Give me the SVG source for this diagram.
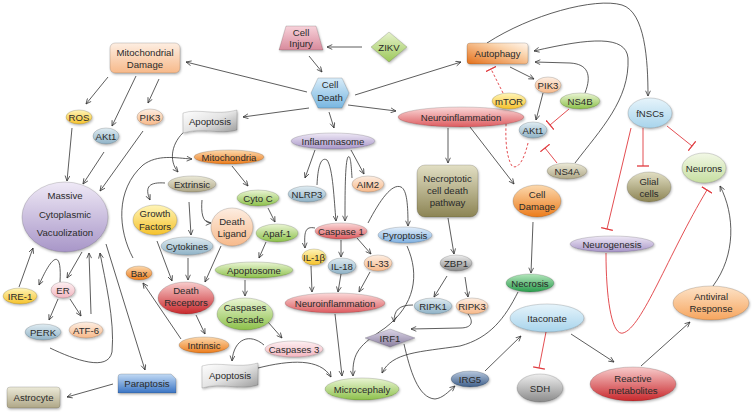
<svg xmlns="http://www.w3.org/2000/svg" width="753" height="412" viewBox="0 0 753 412">
<defs>
<style>
text{font-family:"Liberation Sans",Arial,sans-serif;font-size:9.6px;fill:#2a2a2a;text-anchor:middle}
.sh{filter:url(#ds);stroke:#000;stroke-opacity:0.25;stroke-width:0.6}
.c path{fill:none;stroke:#333;stroke-width:0.8;marker-end:url(#arr)}
.r path{fill:none;stroke:#e03a3e;stroke-width:0.9;marker-end:url(#bar)}
.r path.d{stroke-dasharray:2.5 2}
</style>
<filter id="ds" x="-20%" y="-20%" width="150%" height="160%"><feDropShadow dx="0.8" dy="1.5" stdDeviation="1" flood-color="#000" flood-opacity="0.28"/></filter>
<marker id="arr" viewBox="0 0 8 8" refX="7.5" refY="4" markerWidth="6" markerHeight="6" markerUnits="userSpaceOnUse" orient="auto"><path d="M0.5,0.8 L7.5,4 L0.5,7.2" fill="none" stroke="#333" stroke-width="1"/></marker>
<marker id="bar" viewBox="0 0 2 12" refX="1" refY="6" markerWidth="2" markerHeight="12" markerUnits="userSpaceOnUse" orient="auto"><path d="M1,0 L1,12" stroke="#e03a3e" stroke-width="1.3"/></marker>
<linearGradient id="peach" x1="0" y1="0" x2="0" y2="1"><stop offset="0" stop-color="#fdeee2"/><stop offset="1" stop-color="#f7b98a"/></linearGradient>
<linearGradient id="peach2" x1="0" y1="0" x2="0" y2="1"><stop offset="0" stop-color="#fde3c8"/><stop offset="1" stop-color="#f6a55e"/></linearGradient>
<linearGradient id="orange" x1="0" y1="0" x2="0" y2="1"><stop offset="0" stop-color="#fcd9ae"/><stop offset="1" stop-color="#ec7c1c"/></linearGradient>
<linearGradient id="auto" x1="1" y1="0" x2="0" y2="1"><stop offset="0" stop-color="#fff6ee"/><stop offset="0.3" stop-color="#fbd6b0"/><stop offset="1" stop-color="#e4701a"/></linearGradient>
<linearGradient id="yellow" x1="0" y1="0" x2="0" y2="1"><stop offset="0" stop-color="#fff5b8"/><stop offset="1" stop-color="#f5c22c"/></linearGradient>
<linearGradient id="bgray" x1="0" y1="0" x2="0" y2="1"><stop offset="0" stop-color="#e0ecf2"/><stop offset="1" stop-color="#8fb2c6"/></linearGradient>
<linearGradient id="blue" x1="0" y1="0" x2="0" y2="1"><stop offset="0" stop-color="#e2eefb"/><stop offset="1" stop-color="#7fb0e0"/></linearGradient>
<linearGradient id="lblue" x1="0" y1="0" x2="0" y2="1"><stop offset="0" stop-color="#e6f4fb"/><stop offset="1" stop-color="#a8d4ec"/></linearGradient>
<linearGradient id="lav" x1="0" y1="0" x2="0" y2="1"><stop offset="0" stop-color="#efe9f6"/><stop offset="1" stop-color="#a896c8"/></linearGradient>
<linearGradient id="green" x1="0" y1="0" x2="0" y2="1"><stop offset="0" stop-color="#eaf5d4"/><stop offset="1" stop-color="#8cc04a"/></linearGradient>
<linearGradient id="lgreen" x1="0" y1="0" x2="0" y2="1"><stop offset="0" stop-color="#f2f8e6"/><stop offset="1" stop-color="#c6dea0"/></linearGradient>
<linearGradient id="red" x1="0" y1="0" x2="0" y2="1"><stop offset="0" stop-color="#fbdada"/><stop offset="1" stop-color="#dc5a5e"/></linearGradient>
<linearGradient id="dred" x1="0" y1="0" x2="0" y2="1"><stop offset="0" stop-color="#f8cccc"/><stop offset="1" stop-color="#c8282c"/></linearGradient>
<linearGradient id="pink" x1="0" y1="0" x2="0" y2="1"><stop offset="0" stop-color="#fdf0f2"/><stop offset="1" stop-color="#f2b6c0"/></linearGradient>
<linearGradient id="khaki" x1="0" y1="0" x2="0" y2="1"><stop offset="0" stop-color="#ecead8"/><stop offset="1" stop-color="#aea686"/></linearGradient>
<linearGradient id="olive" x1="0" y1="0" x2="0" y2="1"><stop offset="0" stop-color="#e2dfc4"/><stop offset="1" stop-color="#8c8454"/></linearGradient>
<linearGradient id="gray" x1="0" y1="0" x2="0" y2="1"><stop offset="0" stop-color="#eeeeee"/><stop offset="1" stop-color="#8a8a8a"/></linearGradient>
<linearGradient id="banner" x1="0" y1="0" x2="1" y2="1"><stop offset="0" stop-color="#ffffff"/><stop offset="0.5" stop-color="#e4e4e4"/><stop offset="1" stop-color="#9a9a9a"/></linearGradient>
<linearGradient id="dblue" x1="0" y1="0" x2="0" y2="1"><stop offset="0" stop-color="#b7c8de"/><stop offset="1" stop-color="#3f5f8a"/></linearGradient>
<linearGradient id="ngreen" x1="0" y1="0" x2="0" y2="1"><stop offset="0" stop-color="#b4e6bc"/><stop offset="1" stop-color="#2a9c4c"/></linearGradient>
<linearGradient id="purple" x1="0" y1="0" x2="0" y2="1"><stop offset="0" stop-color="#dcd6e8"/><stop offset="1" stop-color="#8a7e9e"/></linearGradient>
<linearGradient id="para" x1="0" y1="0" x2="0" y2="1"><stop offset="0" stop-color="#c2daf4"/><stop offset="1" stop-color="#3a74c4"/></linearGradient>
<linearGradient id="inj" x1="0" y1="0" x2="0" y2="1"><stop offset="0" stop-color="#f7d2da"/><stop offset="1" stop-color="#d88a9c"/></linearGradient>
<linearGradient id="hex" x1="0" y1="0" x2="0" y2="1"><stop offset="0" stop-color="#d8ecf9"/><stop offset="1" stop-color="#78b6e0"/></linearGradient>
<linearGradient id="zikv" x1="0" y1="0" x2="0" y2="1"><stop offset="0" stop-color="#e6f2cc"/><stop offset="1" stop-color="#9cc85a"/></linearGradient>
</defs>
<rect width="753" height="412" fill="#fff"/>

<g class="c" id="connectors">
<path d="M362,47 L327,47"/>
<path d="M309,56 L322,72"/>
<path d="M307,92 L186,62"/>
<path d="M309,108 L243,117"/>
<path d="M355,95 L461,62"/>
<path d="M348,105 L396,111"/>
<path d="M329,112 L334,128"/>
<path d="M108,77 L86,104"/>
<path d="M136,76 L112,126"/>
<path d="M159,79 L148,103"/>
<path d="M72,128 L67,181"/>
<path d="M104,152 L83,184"/>
<path d="M143,131 L100,191"/>
<path d="M185,131 C172,142 168,160 178,172"/>
<path d="M133,258 C118,230 115,190 143,165 C158,154 175,158 192,159"/>
<path d="M232,166 L248,186"/>
<path d="M165,183 C150,182 144,186 150,200"/>
<path d="M189,202 L191,235"/>
<path d="M202,200 C201,212 202,223 211,223"/>
<path d="M157,241 L172,281"/>
<path d="M188,258 L188,280"/>
<path d="M221,246 L205,282"/>
<path d="M268,208 L275,222"/>
<path d="M266,242 L259,258"/>
<path d="M245,280 L245,296"/>
<path d="M268,322 L282,338"/>
<path d="M264,345 C250,333 234,338 232,361"/>
<path d="M196,315 L205,334"/>
<path d="M181,339 L143,283"/>
<path d="M258,368 C290,360 320,358 331,377"/>
<path d="M106,244 L145,370"/>
<path d="M113,384 L67,397"/>
<path d="M19,287 L33,248"/>
<path d="M60,282 C62,248 52,255 39,285"/>
<path d="M82,252 L67,278"/>
<path d="M91,314 L89,253"/>
<path d="M50,348 C75,360 108,372 112,352 C115,320 105,280 100,253"/>
<path d="M58,299 L49,320"/>
<path d="M70,299 L81,316"/>
<path d="M315,150 L305,178"/>
<path d="M317,185 C318,163 322,157 327,160 C333,168 334,200 336,221"/>
<path d="M352,178 C351,160 350,155 348,157 C345,162 345,195 345,221"/>
<path d="M351,150 L364,174"/>
<path d="M315,228 C305,226 304,232 305,248"/>
<path d="M341,240 L341,257"/>
<path d="M357,238 L371,254"/>
<path d="M368,223 C380,200 392,183 401,187 C407,190 408,205 408,226"/>
<path d="M311,266 L312,292"/>
<path d="M341,274 L338,292"/>
<path d="M370,272 L359,292"/>
<path d="M335,314 L342,376"/>
<path d="M407,246 C420,275 415,305 385,328 C360,345 352,352 353,376"/>
<path d="M448,128 L448,163"/>
<path d="M470,127 L514,184"/>
<path d="M533,222 L531,273"/>
<path d="M448,218 L454,254"/>
<path d="M447,276 L434,297"/>
<path d="M465,277 L468,297"/>
<path d="M413,305 C399,305 394,310 394,322"/>
<path d="M468,314 C474,322 472,328 460,328 L411,329"/>
<path d="M404,344 C410,370 418,398 435,399 C443,398 448,392 455,386"/>
<path d="M518,292 C505,318 490,338 460,346 C420,352 392,352 382,373"/>
<path d="M485,371 L521,336"/>
<path d="M571,334 L614,362"/>
<path d="M641,366 L690,322"/>
<path d="M713,286 C736,255 735,215 720,186"/>
<path d="M487,43 C530,15 595,-3 622,5 C645,12 648,60 648,96"/>
<path d="M575,163 C600,130 630,100 628,58 C626,35 590,38 534,51"/>
<path d="M585,93 C592,75 588,64 570,63 L535,62"/>
<path d="M510,67 L534,79"/>
<path d="M543,93 L536,120"/>
</g>
<g class="r" id="inhibitors">
<path d="M569,109 L550,125"/>
<path d="M557,163 L545,148"/>
<path d="M643,128 L643,166"/>
<path d="M667,126 L692,146"/>
<path d="M631,128 L607,229"/>
<path d="M606,253 C606,300 612,336 623,333 C642,328 668,255 707,190"/>
<path d="M546,332 L539,368"/>
<path class="d" d="M503,93 L491,69"/>
<path class="d" d="M528,143 C524,160 518,170 512,166 C505,155 505,130 507,113"/>
</g>

<g id="mito-damage"><rect class="sh" x="110" y="43" width="70" height="30" rx="5" fill="url(#peach)"/><text x="145" y="55.5">Mitochondrial</text><text x="145" y="67.5">Damage</text></g>
<g id="cell-injury"><polygon class="sh" points="286,26 316,26 323,50 279,50" fill="url(#inj)"/><text x="301" y="35.5">Cell</text><text x="301" y="46.5">Injury</text></g>
<g id="zikv"><polygon class="sh" points="389,32 407,47 389,62 371,47" fill="url(#zikv)"/><text x="389" y="50.5">ZIKV</text></g>
<g id="cell-death"><polygon class="sh" points="318,78 342,78 349,93 342,108 318,108 311,93" fill="url(#hex)"/><text x="330" y="88">Cell</text><text x="330" y="100.5">Death</text></g>
<g id="autophagy"><rect class="sh" x="467" y="43" width="61" height="21" rx="3" fill="url(#auto)"/><text x="497.5" y="57">Autophagy</text></g>
<g id="neuroinfl-top"><ellipse class="sh" cx="461" cy="117" rx="63" ry="10" fill="url(#red)"/><text x="461" y="120.5">Neuroinflammation</text></g>
<g id="pik3-r"><ellipse class="sh" cx="548" cy="85" rx="13" ry="8" fill="url(#peach)"/><text x="548" y="88.5">PIK3</text></g>
<g id="mtor"><ellipse class="sh" cx="509" cy="101" rx="17" ry="8" fill="url(#yellow)"/><text x="509" y="104.5">mTOR</text></g>
<g id="ns4b"><ellipse class="sh" cx="580" cy="101" rx="20" ry="8" fill="url(#green)"/><text x="580" y="104.5">NS4B</text></g>
<g id="akt1-r"><ellipse class="sh" cx="533" cy="130" rx="14" ry="8" fill="url(#bgray)"/><text x="533" y="133.5">AKt1</text></g>
<g id="ns4a"><ellipse class="sh" cx="567" cy="171" rx="20" ry="8" fill="url(#khaki)"/><text x="567" y="174.5">NS4A</text></g>
<g id="fnscs"><ellipse class="sh" cx="650" cy="113" rx="22" ry="15" fill="url(#lblue)"/><text x="650" y="116.5">fNSCs</text></g>
<g id="glial"><ellipse class="sh" cx="649" cy="187" rx="22" ry="15" fill="url(#olive)"/><text x="649" y="184.5">Glial</text><text x="649" y="196.5">cells</text></g>
<g id="neurons"><ellipse class="sh" cx="704" cy="168" rx="22" ry="15" fill="url(#lgreen)"/><text x="704" y="171.5">Neurons</text></g>
<g id="neurogenesis"><ellipse class="sh" cx="612" cy="244" rx="42" ry="8" fill="url(#lav)"/><text x="612" y="247.5">Neurogenesis</text></g>
<g id="cell-damage"><ellipse class="sh" cx="537" cy="201" rx="24" ry="16" fill="url(#orange)"/><text x="537" y="197.5">Cell</text><text x="537" y="209.5">Damage</text></g>
<g id="necrosis"><ellipse class="sh" cx="530" cy="283" rx="24" ry="9" fill="url(#ngreen)"/><text x="530" y="286.5">Necrosis</text></g>
<g id="itaconate"><ellipse class="sh" cx="547" cy="318" rx="37" ry="14" fill="url(#lblue)"/><text x="547" y="321.5">Itaconate</text></g>
<g id="sdh"><ellipse class="sh" cx="540" cy="388" rx="23" ry="14" fill="url(#gray)"/><text x="540" y="391.5">SDH</text></g>
<g id="reactive"><ellipse class="sh" cx="633" cy="384" rx="43" ry="17" fill="url(#dred)"/><text x="633" y="382">Reactive</text><text x="633" y="394">metabolites</text></g>
<g id="antiviral"><ellipse class="sh" cx="711" cy="303" rx="38" ry="17" fill="url(#peach2)"/><text x="711" y="300">Antiviral</text><text x="711" y="312">Response</text></g>
<g id="irg5"><ellipse class="sh" cx="470" cy="379" rx="19" ry="8" fill="url(#dblue)"/><text x="470" y="382.5">IRG5</text></g>
<g id="irf1"><polygon class="sh" points="365,338 390,329 415,338 390,347" fill="url(#purple)"/><text x="390" y="341.5">IRF1</text></g>
<g id="ripk1"><ellipse class="sh" cx="433" cy="306" rx="19" ry="8" fill="url(#bgray)"/><text x="433" y="309.5">RIPK1</text></g>
<g id="ripk3"><ellipse class="sh" cx="472" cy="306" rx="16" ry="8" fill="url(#peach)"/><text x="472" y="309.5">RIPK3</text></g>
<g id="zbp1"><ellipse class="sh" cx="456" cy="263" rx="16" ry="8" fill="url(#gray)"/><text x="456" y="266.5">ZBP1</text></g>
<g id="necroptotic"><rect class="sh" x="417" y="165" width="61" height="52" rx="8" fill="url(#olive)"/><text x="447.5" y="182">Necroptotic</text><text x="447.5" y="194">cell death</text><text x="447.5" y="206">pathway</text></g>
<g id="microcephaly"><ellipse class="sh" cx="362" cy="389" rx="37" ry="11" fill="url(#green)"/><text x="362" y="392.5">Microcephaly</text></g>
<g id="neuroinfl-low"><ellipse class="sh" cx="335" cy="303" rx="50" ry="10" fill="url(#red)"/><text x="335" y="306.5">Neuroinflammation</text></g>
<g id="caspases3"><ellipse class="sh" cx="294" cy="349" rx="29" ry="8" fill="url(#pink)"/><text x="294" y="352.5">Caspases 3</text></g>
<g id="apoptosis-low"><path class="sh" d="M202,366 C218,361 238,369 258,363 L258,385 C240,391 222,382 202,388 Z" fill="url(#banner)"/><text x="230" y="378.5">Apoptosis</text></g>
<g id="casp-cascade"><ellipse class="sh" cx="245" cy="314" rx="28" ry="16" fill="url(#green)"/><text x="245" y="310.5">Caspases</text><text x="245" y="322.5">Cascade</text></g>
<g id="apoptosome"><ellipse class="sh" cx="254" cy="270" rx="39" ry="8" fill="url(#green)"/><text x="254" y="273.5">Apoptosome</text></g>
<g id="apaf1"><ellipse class="sh" cx="277" cy="233" rx="21" ry="9" fill="url(#green)"/><text x="277" y="236.5">Apaf-1</text></g>
<g id="cytoc"><ellipse class="sh" cx="258" cy="198" rx="21" ry="8" fill="url(#green)"/><text x="258" y="201.5">Cyto C</text></g>
<g id="mitochondria"><ellipse class="sh" cx="229" cy="157" rx="35" ry="7" fill="url(#orange)"/><text x="229" y="160.5">Mitochondria</text></g>
<g id="extrinsic"><ellipse class="sh" cx="192" cy="184" rx="24" ry="8" fill="url(#khaki)"/><text x="192" y="187.5">Extrinsic</text></g>
<g id="growth"><ellipse class="sh" cx="155" cy="220" rx="22" ry="15" fill="url(#yellow)"/><text x="155" y="217">Growth</text><text x="155" y="229.5">Factors</text></g>
<g id="death-ligand"><ellipse class="sh" cx="232" cy="227" rx="21" ry="19" fill="url(#peach)"/><text x="232" y="224.5">Death</text><text x="232" y="236.5">Ligand</text></g>
<g id="cytokines"><ellipse class="sh" cx="187" cy="246" rx="26" ry="9" fill="url(#bgray)"/><text x="187" y="249.5">Cytokines</text></g>
<g id="bax"><ellipse class="sh" cx="139" cy="273" rx="13" ry="7" fill="url(#orange)"/><text x="139" y="276.5">Bax</text></g>
<g id="death-receptors"><ellipse class="sh" cx="186" cy="298" rx="28" ry="16" fill="url(#dred)"/><text x="186" y="294">Death</text><text x="186" y="306">Receptors</text></g>
<g id="intrinsic"><ellipse class="sh" cx="204" cy="345" rx="25" ry="8" fill="url(#orange)"/><text x="204" y="348.5">Intrinsic</text></g>
<g id="paraptosis"><path class="sh" d="M121,374 L171,374 L176,379 L176,393 L118,393 L118,377 Q118,374 121,374 Z" fill="url(#para)"/><text x="147" y="386.5">Paraptosis</text></g>
<g id="astrocyte"><rect class="sh" x="7" y="387" width="53" height="21" rx="3" fill="url(#khaki)"/><text x="33.5" y="401">Astrocyte</text></g>
<g id="perk"><ellipse class="sh" cx="43" cy="332" rx="18" ry="8" fill="url(#bgray)"/><text x="43" y="335.5">PERK</text></g>
<g id="atf6"><ellipse class="sh" cx="86" cy="330" rx="17" ry="8" fill="url(#peach)"/><text x="86" y="333.5">ATF-6</text></g>
<g id="er"><ellipse class="sh" cx="63" cy="290" rx="12" ry="8" fill="url(#pink)"/><text x="63" y="293.5">ER</text></g>
<g id="ire1"><ellipse class="sh" cx="20" cy="296" rx="17" ry="8" fill="url(#yellow)"/><text x="20" y="299.5">IRE-1</text></g>
<g id="massive"><ellipse class="sh" cx="65" cy="217" rx="43" ry="35" fill="url(#lav)"/><text x="65" y="199">Massive</text><text x="65" y="217.5">Cytoplasmic</text><text x="65" y="236">Vacuolization</text></g>
<g id="ros"><ellipse class="sh" cx="79" cy="117" rx="13" ry="7" fill="url(#yellow)"/><text x="79" y="120.5">ROS</text></g>
<g id="akt1-l"><ellipse class="sh" cx="106" cy="136" rx="13" ry="8" fill="url(#bgray)"/><text x="106" y="139.5">AKt1</text></g>
<g id="pik3-l"><ellipse class="sh" cx="150" cy="117" rx="13" ry="8" fill="url(#peach)"/><text x="150" y="120.5">PIK3</text></g>
<g id="apoptosis-top"><path class="sh" d="M183,113 C198,108 216,116 237,110 L237,130 C220,135 202,127 183,133 Z" fill="url(#banner)"/><text x="210" y="124.5">Apoptosis</text></g>
<g id="inflammasome"><ellipse class="sh" cx="333" cy="141" rx="42" ry="8" fill="url(#lav)"/><text x="333" y="144.5">Inflammasome</text></g>
<g id="nlrp3"><ellipse class="sh" cx="307" cy="194" rx="19" ry="8" fill="url(#bgray)"/><text x="307" y="197.5">NLRP3</text></g>
<g id="aim2"><ellipse class="sh" cx="368" cy="184" rx="16" ry="8" fill="url(#peach)"/><text x="368" y="187.5">AIM2</text></g>
<g id="caspase1"><ellipse class="sh" cx="341" cy="231" rx="26" ry="8" fill="url(#red)"/><text x="341" y="234.5">Caspase 1</text></g>
<g id="pyroptosis"><ellipse class="sh" cx="405" cy="235" rx="27" ry="8" fill="url(#blue)"/><text x="405" y="238.5">Pyroptosis</text></g>
<g id="il1b"><ellipse class="sh" cx="314" cy="257" rx="12" ry="8" fill="url(#yellow)"/><text x="314" y="260.5">IL-1β</text></g>
<g id="il18"><ellipse class="sh" cx="342" cy="266" rx="14" ry="8" fill="url(#bgray)"/><text x="342" y="269.5">IL-18</text></g>
<g id="il33"><ellipse class="sh" cx="378" cy="263" rx="14" ry="8" fill="url(#peach)"/><text x="378" y="266.5">IL-33</text></g>
</svg>
